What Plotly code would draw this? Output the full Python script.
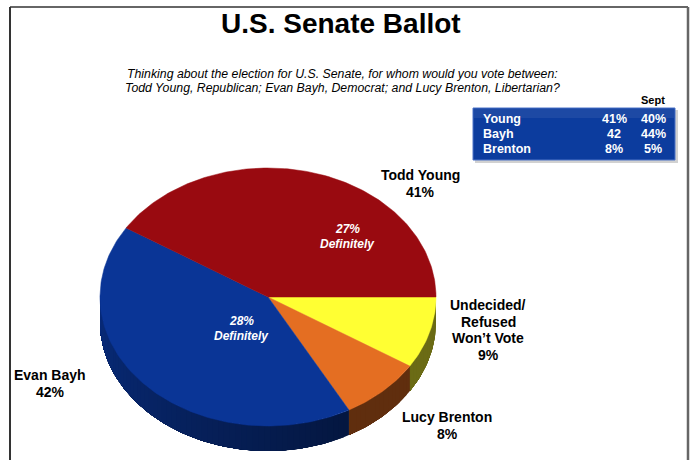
import numpy as np
import plotly.graph_objects as go

# Ballot shares in percent, laid out clockwise starting at 3 o'clock
slice_names = ["Undecided/<br>Refused<br>Won’t Vote", "Lucy Brenton", "Evan Bayh", "Todd Young"]
slice_values = [9, 8, 42, 41]
top_colors = ["#FFFF33", "#E46E22", "#0A3596", "#990A10"]

# "Definitely" share inside the two major candidates' slices
definitely_values = {"Evan Bayh": 28, "Todd Young": 27}

# Trend table: current vs. September
table_names = ["Young", "Bayh", "Brenton"]
table_now = ["41%", "42", "8%"]
table_sept = ["40%", "44%", "5%"]

W, H = 693, 460
CX, CY, RX, RY, DEPTH = 268, 297, 168, 129, 25
FONT = "Liberation Sans"


def hex_rgb(c):
    c = c.lstrip("#")
    return [int(c[i:i + 2], 16) for i in (0, 2, 4)]


def shade(c, f):
    r, g, b = [int(round(v * f)) for v in hex_rgb(c)]
    return f"rgb({r},{g},{b})"


def ellipse_pts(t0, t1, dy=0.0, n=None):
    if n is None:
        n = max(2, int(abs(t1 - t0) / 1.0) + 1)
    t = np.radians(np.linspace(t0, t1, n))
    return CX + RX * np.cos(t), CY + RY * np.sin(t) + dy


fig = go.Figure()

total = float(sum(slice_values))
bounds = np.concatenate([[0.0], np.cumsum(slice_values) / total * 360.0])

# Side wall of the tilted pie (front half only); each layer starts a bit further
# round and overpaints the previous one, giving a seamless left-lit gradient
for i, col in enumerate(top_colors):
    a0, a1 = max(bounds[i], 0.0), min(bounds[i + 1], 180.0)
    if a1 <= a0:
        continue
    for ta in np.arange(a0, a1, 2.0):
        f = 0.42 + 0.4 * np.clip((ta + 1.0 - 60.0) / 120.0, 0, 1)
        c = shade(col, f)
        xt, yt = ellipse_pts(ta, a1, 0)
        xb, yb = ellipse_pts(a1, ta, DEPTH)
        fig.add_trace(go.Scatter(
            x=np.concatenate([xt, xb]), y=np.concatenate([yt, yb]),
            mode="lines", fill="toself", fillcolor=c,
            line=dict(width=0), hoverinfo="skip", showlegend=False))

# Top face of each slice
for i, col in enumerate(top_colors):
    xs, ys = ellipse_pts(bounds[i], bounds[i + 1])
    fig.add_trace(go.Scatter(
        x=np.concatenate([[CX], xs, [CX]]), y=np.concatenate([[CY], ys, [CY]]),
        mode="lines", fill="toself", fillcolor=col,
        line=dict(color=col, width=0.5), hoverinfo="skip", showlegend=False))

ann = []


def text(x, y, s, size, color="black", bold=True, italic=False, xanchor="center"):
    if bold:
        s = f"<b>{s}</b>"
    if italic:
        s = f"<i>{s}</i>"
    ann.append(dict(x=x, y=y, xref="x", yref="y", text=s, showarrow=False,
                    font=dict(family=FONT, size=size, color=color),
                    xanchor=xanchor, yanchor="middle"))


def lines(x, y, rows, step, size, **kw):
    for k, r in enumerate(rows):
        text(x, y + k * step, r, size, **kw)


# Title and question wording
text(341, 23, "U.S. Senate Ballot", 28)
text(342, 74, "Thinking about the election for U.S. Senate, for whom would you vote between:",
     12.3, bold=False, italic=True)
text(342, 88, "Todd Young, Republican; Evan Bayh, Democrat; and Lucy Brenton, Libertarian?",
     12.3, bold=False, italic=True)

# Slice labels
label_pos = {
    "Todd Young": (420, 175),
    "Evan Bayh": (50, 375),
    "Lucy Brenton": (447, 417),
    slice_names[0]: (488, 305),
}
for name, v in zip(slice_names, slice_values):
    x, y = label_pos[name]
    lines(x, y, name.split("<br>") + [f"{v}%"], 16.6, 14)

def_pos = {"Todd Young": (347, 229), "Evan Bayh": (241, 321)}
for name, v in definitely_values.items():
    x, y = def_pos[name]
    lines(x, y, [f"{v}%", "Definitely"], 14.5, 12, color="white", italic=True)

# Trend table
shapes = [
    dict(type="rect", xref="x", yref="y", x0=475, x1=678, y0=110, y1=163,
         fillcolor="rgba(0,0,0,0.18)", line=dict(width=0), layer="below"),
    dict(type="rect", xref="x", yref="y", x0=473, x1=675, y0=108, y1=160,
         fillcolor="#0C3C9E", line=dict(color="#4F74C8", width=1), layer="below"),
    dict(type="rect", xref="x", yref="y", x0=474, x1=674, y0=109, y1=118,
         fillcolor="rgba(255,255,255,0.07)", line=dict(width=0), layer="below"),
    # frame
    dict(type="line", xref="x", yref="y", x0=10, x1=10, y0=7, y1=460,
         line=dict(color="#333333", width=2)),
    dict(type="line", xref="x", yref="y", x0=10, x1=688, y0=7, y1=7,
         line=dict(color="#333333", width=1.5)),
    dict(type="line", xref="x", yref="y", x0=688, x1=688, y0=7, y1=460,
         line=dict(color="#666666", width=2.5)),
]
text(653, 100, "Sept", 11)
for k, (nm, a, b) in enumerate(zip(table_names, table_now, table_sept)):
    y = 119 + 15 * k
    text(481, y, nm, 12.5, color="white", xanchor="left")
    text(614, y, a, 12.5, color="white")
    text(653, y, b, 12.5, color="white")

fig.update_layout(
    width=W, height=H, margin=dict(l=0, r=0, t=0, b=0),
    paper_bgcolor="white", plot_bgcolor="white",
    xaxis=dict(range=[0, W], visible=False, fixedrange=True),
    yaxis=dict(range=[H, 0], visible=False, fixedrange=True),
    annotations=ann, shapes=shapes, showlegend=False,
)

fig.write_html("out.html")
